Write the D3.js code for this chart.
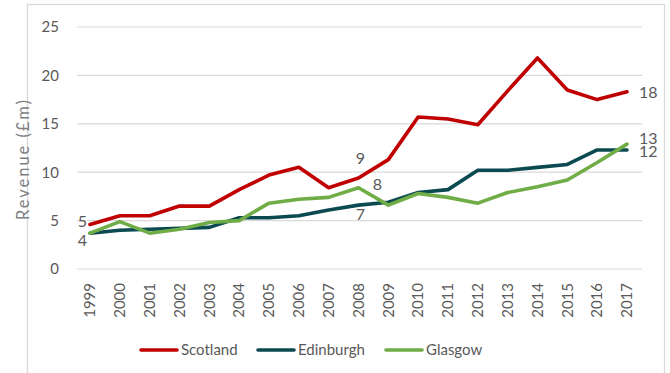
<!DOCTYPE html>
<html><head><meta charset="utf-8">
<script src="https://cdn.jsdelivr.net/npm/d3@7"></script>
<style>body{margin:0;background:#fff;} svg{display:block;font-family:Lato,"Open Sans",sans-serif;}</style>
</head><body>
<svg id="c" width="670" height="373"></svg>
<script>
const years = ["1999","2000","2001","2002","2003","2004","2005","2006","2007","2008","2009","2010","2011","2012","2013","2014","2015","2016","2017"];
const scotland  = [4.6,5.5,5.5,6.5,6.5,8.2,9.7,10.5,8.4,9.4,11.3,15.7,15.5,14.9,18.4,21.8,18.5,17.5,18.3];
const edinburgh = [3.7,4.0,4.1,4.2,4.3,5.3,5.3,5.5,6.1,6.6,6.9,7.9,8.2,10.2,10.2,10.5,10.8,12.3,12.3];
const glasgow   = [3.7,4.9,3.7,4.1,4.8,5.0,6.8,7.2,7.4,8.4,6.6,7.8,7.4,6.8,7.9,8.5,9.2,11.0,12.9];
const yTicks = [0,5,10,15,20,25];
const seriesNames = ["Scotland","Edinburgh","Glasgow"];
const colors = ["#c00000","#0b4a50","#70ad47"];
const seriesData = [scotland, edinburgh, glasgow];

const svg = d3.select("#c");
const txt = "#595959";
const FF = "Lato,'Open Sans',sans-serif";
// outer border
svg.append("rect").attr("x",27.5).attr("y",4.5).attr("width",637).attr("height",380)
  .attr("fill","none").attr("stroke","#d9d9d9").attr("stroke-width",1.3);

const x = d3.scalePoint().domain(years).range([90,627]);
const y = d3.scaleLinear().domain([0,25]).range([269,27]);

// gridlines
svg.append("g").selectAll("line").data(yTicks).join("line")
  .attr("x1",77).attr("x2",642).attr("y1",d=>y(d)).attr("y2",d=>y(d))
  .attr("stroke","#d9d9d9").attr("stroke-width",1.2);

// y axis labels
const ya = svg.append("g").attr("transform","translate(59,0)")
  .call(d3.axisLeft(y).tickValues(yTicks).tickSize(0).tickPadding(0));
ya.select(".domain").remove();
ya.selectAll("text").attr("fill",txt).style("font-size","15px").style("font-family",FF);

// x axis labels
const xa = svg.append("g")
  .call(d3.axisBottom(x).tickSize(0).tickPadding(0));
xa.select(".domain").remove();
xa.selectAll(".tick").attr("transform",d=>`translate(${x(d)},283)`);
xa.selectAll("text").attr("fill",txt).style("font-size","15px").style("font-family",FF)
  .attr("text-anchor","end").attr("dy","0.35em").attr("transform","rotate(-90)")
  .attr("x",0).attr("y",0);

// axis title
svg.append("text").attr("transform","translate(23,160) rotate(-90)").attr("text-anchor","middle")
  .attr("dy","0.35em").attr("fill","#7f7f7f").style("font-size","16.5px")
  .attr("textLength",120).attr("lengthAdjust","spacing").text("Revenue (£m)");

// lines
const line = d3.line().x((d,i)=>x(years[i])).y(d=>y(d));
seriesData.forEach((s,k)=>{
  svg.append("path").datum(s).attr("d",line).attr("fill","none")
    .attr("stroke",colors[k]).attr("stroke-width",3.6).attr("stroke-linejoin","round").attr("stroke-linecap","round");
});

// data labels
const lbl = (t,xx,yy,anchor)=>svg.append("text").attr("x",xx).attr("y",yy).attr("text-anchor",anchor||"middle")
  .attr("dy","0.35em").attr("fill",txt).style("font-size","16px").text(t);
const i0 = 0, i8 = 9, iL = years.length-1;
lbl(Math.round(scotland[i0]), x(years[i0])-3, y(scotland[i0])-3, "end");
lbl(Math.round(edinburgh[i0]), x(years[i0])-3, y(edinburgh[i0])+7, "end");
lbl(Math.round(scotland[i8]), x(years[i8])+2, y(scotland[i8])-20);
lbl(Math.round(glasgow[i8]), x(years[i8])+19, y(glasgow[i8])-3);
lbl(Math.round(edinburgh[i8]), x(years[i8])+2, y(edinburgh[i8])+9);
lbl(Math.round(scotland[iL]), x(years[iL])+12, y(scotland[iL])+0.5, "start");
lbl(Math.round(glasgow[iL]), x(years[iL])+12, y(glasgow[iL])-6, "start");
lbl(Math.round(edinburgh[iL]), x(years[iL])+12, y(edinburgh[iL])+1, "start");

// legend
const lg = svg.append("g");
const legX = [141,258,386];
seriesNames.forEach((n,k)=>{
  lg.append("line").attr("x1",legX[k]).attr("x2",legX[k]+36).attr("y1",350).attr("y2",350)
    .attr("stroke",colors[k]).attr("stroke-width",3.6).attr("stroke-linecap","round");
  lg.append("text").attr("x",legX[k]+40).attr("y",350).attr("dy","0.35em").attr("fill",txt)
    .style("font-size","15px").text(n);
});
</script>
</body></html>
